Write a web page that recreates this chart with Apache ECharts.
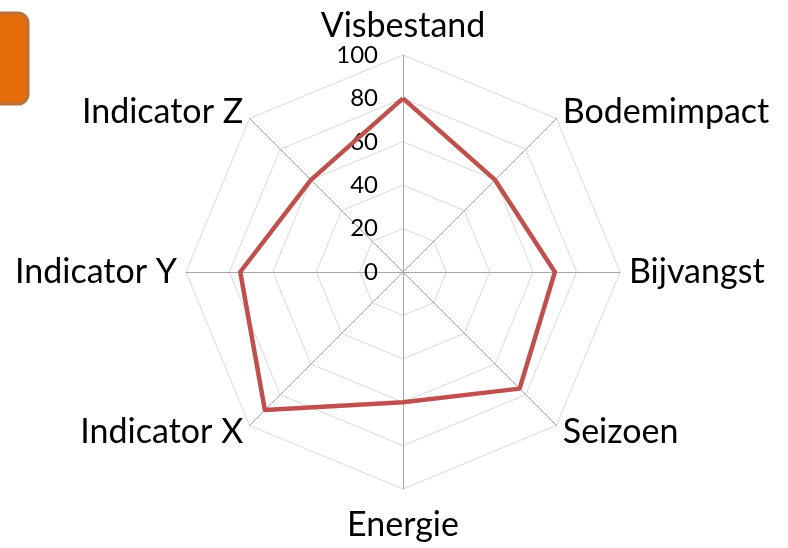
<!DOCTYPE html>
<html>
<head>
<meta charset="utf-8">
<script src="https://cdn.jsdelivr.net/npm/echarts@6/dist/echarts.min.js"></script>
<style>
  html, body { margin: 0; padding: 0; background: #fff; }
  #chart { width: 788px; height: 548px; }
</style>
</head>
<body>
<div id="chart"></div>
<script>
// indicators in ECharts order (counter-clockwise from the top)
const categories = ['Visbestand', 'Indicator Z', 'Indicator Y', 'Indicator X', 'Energie', 'Seizoen', 'Bijvangst', 'Bodemimpact'];
const values = [80, 60, 75, 90, 60, 76, 70, 60];
const maxValue = 100;

const chart = echarts.init(document.getElementById('chart'));

const option = {
  animation: false,
  graphic: [{
    type: 'rect',
    shape: { x: -20, y: 13, width: 48, height: 91, r: 10 },
    style: { fill: '#e46c0a', stroke: '#b9703a', lineWidth: 3 }
  }],
  radar: {
    center: [403, 272],
    radius: 217,
    shape: 'polygon',
    splitNumber: 5,
    nameGap: 9,
    axisName: {
      color: '#000',
      fontFamily: 'Lato',
      fontSize: 34,
      // top and bottom names sit a little further out in the original
      formatter: function (name) {
        if (name === 'Energie') return '{low|' + name + '}';
        if (name === 'Visbestand') return '{high|' + name + '}';
        return name;
      },
      rich: {
        low: { fontFamily: 'Lato', fontSize: 34, color: '#000', padding: [10, 0, 0, 0] },
        high: { fontFamily: 'Lato', fontSize: 34, color: '#000', padding: [0, 0, 3, 0] }
      }
    },
    axisLine: { lineStyle: { color: '#a6a6a6', width: 1 } },
    splitLine: { lineStyle: { color: '#d9d9d9', width: 1 } },
    splitArea: { show: false },
    axisTick: { show: false },
    axisLabel: { show: false },
    indicator: categories.map((name, i) => ({
      name: name,
      max: maxValue,
      min: 0,
      axisLabel: {
        show: i === 0,
        color: '#000',
        fontFamily: 'Lato',
        fontSize: 24,
        margin: 25
      }
    }))
  },
  series: [{
    type: 'radar',
    symbol: 'none',
    lineStyle: { color: '#c0504d', width: 4.5 },
    data: [{ value: values }]
  }]
};

chart.setOption(option);
</script>
</body>
</html>
